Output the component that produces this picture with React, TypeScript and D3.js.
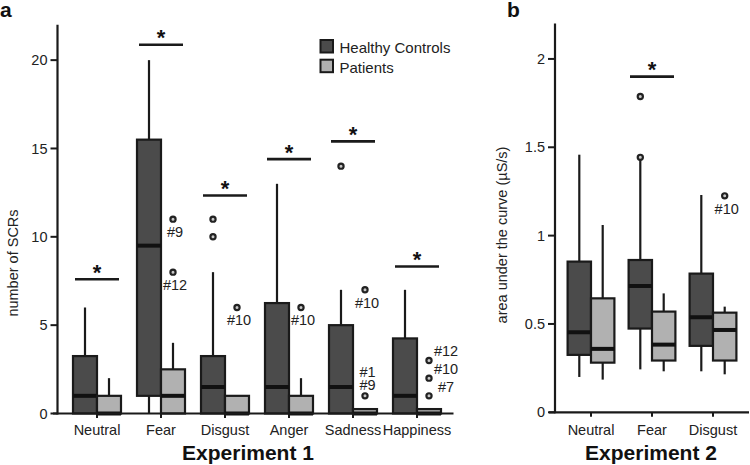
import React from "react";
import * as d3 from "d3";

const categories1 = ["Neutral", "Fear", "Disgust", "Anger", "Sadness", "Happiness"];
const categories2 = ["Neutral", "Fear", "Disgust"];
const groups = ["Healthy Controls", "Patients"];

// [lower whisker, q1, median, q3, upper whisker]
const controls1 = [
  [0, 0, 1, 3.25, 6],
  [0, 1, 9.5, 15.5, 20],
  [0, 0, 1.5, 3.25, 8],
  [0, 0, 1.5, 6.25, 13],
  [0, 0, 1.5, 5, 7],
  [0, 0, 1, 4.25, 7],
];
const patients1 = [
  [0, 0, 0, 1, 2],
  [0, 0, 1, 2.5, 4],
  [0, 0, 0, 1, 1],
  [0, 0, 0, 1, 2],
  [0, 0, 0, 0.25, 0.25],
  [0, 0, 0, 0.25, 0.25],
];
const controls2 = [
  [0.2, 0.325, 0.453, 0.853, 1.458],
  [0.243, 0.474, 0.715, 0.862, 1.443],
  [0.232, 0.376, 0.538, 0.785, 1.23],
];
const patients2 = [
  [0.185, 0.281, 0.359, 0.645, 1.06],
  [0.232, 0.293, 0.383, 0.57, 0.673],
  [0.215, 0.293, 0.466, 0.564, 0.598],
];

// [category, group index, value]
const outliers1: [string, number, number][] = [
  ["Fear", 1, 11], ["Fear", 1, 8],
  ["Disgust", 0, 11], ["Disgust", 0, 10], ["Disgust", 1, 6],
  ["Anger", 1, 6],
  ["Sadness", 0, 14], ["Sadness", 1, 7], ["Sadness", 1, 1],
  ["Happiness", 1, 3], ["Happiness", 1, 2], ["Happiness", 1, 1],
];
// [category, group index, value, text, placement]
const outlierLabels1: [string, number, number, string, string][] = [
  ["Fear", 1, 11, "#9", "below"],
  ["Fear", 1, 8, "#12", "below"],
  ["Disgust", 1, 6, "#10", "below"],
  ["Anger", 1, 6, "#10", "below"],
  ["Sadness", 1, 7, "#10", "below"],
  ["Sadness", 1, 1, "#1", "above2"],
  ["Sadness", 1, 1, "#9", "above1"],
  ["Happiness", 1, 3, "#12", "right"],
  ["Happiness", 1, 2, "#10", "right"],
  ["Happiness", 1, 1, "#7", "right"],
];
const outliers2: [string, number, number][] = [
  ["Fear", 0, 1.787], ["Fear", 0, 1.443], ["Disgust", 1, 1.225],
];
const outlierLabels2: [string, number, number, string, string][] = [
  ["Disgust", 1, 1.225, "#10", "below"],
];

// significance bar levels
const significance1: [string, number][] = [
  ["Neutral", 7.6], ["Fear", 20.87], ["Disgust", 12.34],
  ["Anger", 14.4], ["Sadness", 15.4], ["Happiness", 8.32],
];
const significance2: [string, number][] = [["Fear", 1.9]];

const ticks1 = [0, 5, 10, 15, 20];
const ticks2 = [0, 0.5, 1, 1.5, 2];

const FONT = "'Liberation Sans', Arial, Helvetica, sans-serif";
const HC_FILL = "#4b4b4b";
const PT_FILL = "#b1b1b1";
const STROKE = "#1a1a1a";
const fills = [HC_FILL, PT_FILL];

type PanelProps = {
  cats: string[];
  controls: number[][];
  patients: number[][];
  outliers: [string, number, number][];
  labels: [string, number, number, string, string][];
  sig: [string, number][];
  ticks: number[];
  xRange: [number, number];
  yDomain: [number, number];
  yRange: [number, number];
  axisX: number;
  xAxisStart: number;
  xAxisEnd: number;
  boxW: number;
  title: string;
  titleX: number;
  yLabel: string;
  yLabelX: number;
  yLabelY: number;
  xLabel: string;
  xLabelX: number;
};

function Panel(p: PanelProps) {
  const x = d3.scalePoint<string>().domain(p.cats).range(p.xRange);
  const y = d3.scaleLinear().domain(p.yDomain).range(p.yRange);
  const y0 = y(0);
  const groupX = (cat: string, g: number) =>
    (x(cat) as number) + (g === 0 ? -p.boxW / 2 : p.boxW / 2);

  const boxes: React.ReactNode[] = [];
  p.cats.forEach((cat, i) => {
    [p.controls[i], p.patients[i]].forEach((s, g) => {
      const cx = groupX(cat, g);
      const [lo, q1, med, q3, hi] = s;
      boxes.push(
        <g key={cat + g}>
          {hi > q3 && (
            <line x1={cx} x2={cx} y1={y(q3)} y2={y(hi)} stroke={STROKE} strokeWidth={2.2} />
          )}
          {q1 > lo && (
            <line x1={cx} x2={cx} y1={y(lo)} y2={y(q1)} stroke={STROKE} strokeWidth={2.2} />
          )}
          <rect
            x={cx - p.boxW / 2}
            y={y(q3)}
            width={p.boxW}
            height={Math.max(0, y(q1) - y(q3))}
            fill={fills[g]}
            stroke={STROKE}
            strokeWidth={2.2}
          />
          <line
            x1={cx - p.boxW / 2}
            x2={cx + p.boxW / 2}
            y1={y(med)}
            y2={y(med)}
            stroke="#111"
            strokeWidth={4}
          />
        </g>
      );
    });
  });

  const labelPos = (cx: number, cy: number, mode: string, text: string) => {
    if (mode === "below") return { x: cx + 2, y: cy + 18, anchor: "middle" };
    if (mode === "above2") return { x: cx - 5.5, y: cy - 19, anchor: "start" };
    if (mode === "above1") return { x: cx - 5.5, y: cy - 5.5, anchor: "start" };
    return { x: cx + 17, y: cy - 4, anchor: "middle" };
  };

  return (
    <g fontFamily={FONT}>
      <text x={p.titleX} y={16.5} fontSize={21} fontWeight="bold" fill="#111">
        {p.title}
      </text>
      {boxes}
      {/* axes */}
      <line x1={p.axisX} x2={p.axisX} y1={p.yRange[1]} y2={y0 + 1} stroke={STROKE} strokeWidth={2.2} />
      <line x1={p.xAxisStart} x2={p.xAxisEnd} y1={y0} y2={y0} stroke={STROKE} strokeWidth={2.2} />
      {p.ticks.map((t) => (
        <g key={t}>
          <line x1={p.axisX - 7} x2={p.axisX} y1={y(t)} y2={y(t)} stroke={STROKE} strokeWidth={2} />
          <text
            x={p.axisX - 10}
            y={y(t)}
            dy="0.35em"
            textAnchor="end"
            fontSize={14.5}
            fill="#222"
          >
            {String(t)}
          </text>
        </g>
      ))}
      {p.cats.map((c) => (
        <g key={c}>
          <line x1={x(c)} x2={x(c)} y1={y0} y2={y0 + 4.5} stroke={STROKE} strokeWidth={2} />
          <text x={x(c)} y={435} textAnchor="middle" fontSize={14.5} fill="#222">
            {c}
          </text>
        </g>
      ))}
      {/* outliers */}
      {p.outliers.map(([c, g, v], i) => (
        <circle
          key={i}
          cx={groupX(c, g)}
          cy={y(v)}
          r={2.6}
          fill="#c8c8c8"
          stroke="#222"
          strokeWidth={2.2}
        />
      ))}
      {p.labels.map(([c, g, v, t, mode], i) => {
        const lp = labelPos(groupX(c, g), y(v), mode, t);
        return (
          <text key={i} x={lp.x} y={lp.y} textAnchor={lp.anchor} fontSize={14.5} fill="#222">
            {t}
          </text>
        );
      })}
      {/* significance */}
      {p.sig.map(([c, v]) => (
        <g key={c}>
          <line
            x1={(x(c) as number) - 22}
            x2={(x(c) as number) + 22}
            y1={y(v)}
            y2={y(v)}
            stroke={STROKE}
            strokeWidth={2.6}
          />
          <text x={x(c)} y={y(v) + 0.5} textAnchor="middle" fontSize={22} fontWeight="bold" fill="#111">
            *
          </text>
        </g>
      ))}
      <text
        transform={`translate(${p.yLabelX},${p.yLabelY}) rotate(-90)`}
        textAnchor="middle"
        fontSize={14.5}
        fill="#222"
      >
        {p.yLabel}
      </text>
      <text x={p.xLabelX} y={460} textAnchor="middle" fontSize={21} fontWeight="bold" fill="#111">
        {p.xLabel}
      </text>
    </g>
  );
}

export default function App() {
  return (
    <svg
      width={750}
      height={465}
      viewBox="0 0 750 465"
      style={{ position: "absolute", left: 0, top: 0, background: "#fff" }}
    >
      <rect width={750} height={465} fill="#fff" />
      <Panel
        cats={categories1}
        controls={controls1}
        patients={patients1}
        outliers={outliers1}
        labels={outlierLabels1}
        sig={significance1}
        ticks={ticks1}
        xRange={[97, 417]}
        yDomain={[0, 22]}
        yRange={[413.5, 24.8]}
        axisX={57.5}
        xAxisStart={53}
        xAxisEnd={453.5}
        boxW={24}
        title="a"
        titleX={0}
        yLabel="number of SCRs"
        yLabelX={18.3}
        yLabelY={263}
        xLabel="Experiment 1"
        xLabelX={248}
      />
      <Panel
        cats={categories2}
        controls={controls2}
        patients={patients2}
        outliers={outliers2}
        labels={outlierLabels2}
        sig={significance2}
        ticks={ticks2}
        xRange={[591, 713]}
        yDomain={[0, 2.2]}
        yRange={[412.3, 23.6]}
        axisX={555}
        xAxisStart={549}
        xAxisEnd={749}
        boxW={23.4}
        title="b"
        titleX={507}
        yLabel="area under the curve (µS/s)"
        yLabelX={506.5}
        yLabelY={235}
        xLabel="Experiment 2"
        xLabelX={651}
      />
      {/* legend */}
      <g fontFamily={FONT}>
        {groups.map((g, i) => (
          <g key={g}>
            <rect
              x={320.5}
              y={40 + i * 19.7}
              width={12.5}
              height={12.5}
              fill={fills[i]}
              stroke={STROKE}
              strokeWidth={2}
            />
            <text x={339.5} y={53 + i * 19.7} fontSize={15} fill="#222">
              {g}
            </text>
          </g>
        ))}
      </g>
    </svg>
  );
}
